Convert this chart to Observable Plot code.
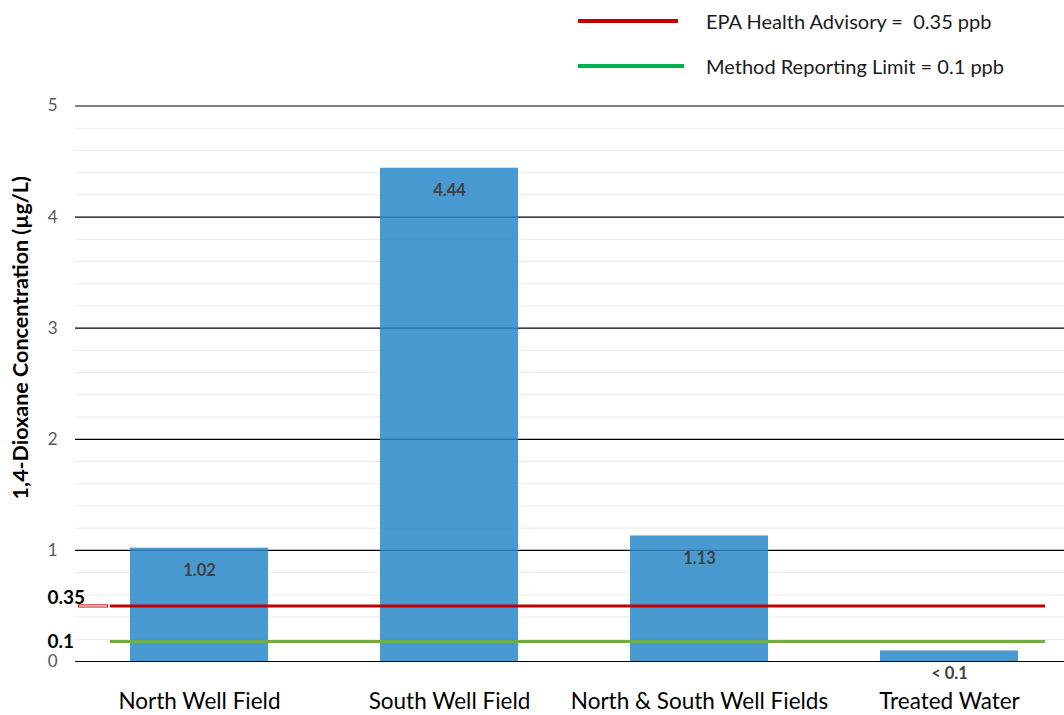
<!DOCTYPE html>
<html>
<head>
<meta charset="utf-8">
<script src="https://cdn.jsdelivr.net/npm/d3@7"></script>
<script src="https://cdn.jsdelivr.net/npm/@observablehq/plot@0.6"></script>
<style>
  html, body { margin: 0; padding: 0; background: #fff; }
  body { width: 1064px; height: 715px; overflow: hidden; font-family: Lato, "Open Sans", sans-serif; }
  #wrap { position: relative; width: 1064px; height: 715px; }
  #legend { position: absolute; left: 0; top: 0; width: 1064px; height: 90px; z-index: 2; }
  .lg-item { position: absolute; left: 578px; height: 24px; display: flex; align-items: center; }
  .lg-line { height: 4px; }
  .lg-text { font-size: 20px; color: #1a1a1a; white-space: pre; }
  #chart { position: absolute; left: 0; top: 0; }
</style>
</head>
<body>
<div id="wrap">
  <div id="legend"></div>
  <div id="chart"></div>
</div>
<script>
// ---- data ----
const categories = ["North Well Field", "South Well Field", "North & South Well Fields", "Treated Water"];
const concentrations = [1.02, 4.44, 1.13, 0.095];
const valueLabels = ["1.02", "4.44", "1.13", "< 0.1"];
const yTicks = [0, 1, 2, 3, 4, 5];
const minorTicks = [0.2, 0.4, 0.6, 0.8, 1.2, 1.4, 1.6, 1.8, 2.2, 2.4, 2.6, 2.8, 3.2, 3.4, 3.6, 3.8, 4.2, 4.4, 4.6, 4.8];
// reference lines: label text and the height at which they are drawn in the picture
const refLabels = ["0.35", "0.1"];
const refDrawnAt = [0.5, 0.18];
const legendNames = ["EPA Health Advisory =  0.35 ppb", "Method Reporting Limit = 0.1 ppb"];
const legendColors = ["#c00000", "#00b050"];
const refColors = ["#c00000", "#70ad47"];
const yTitle = "1,4-Dioxane Concentration (\u00b5g/L)";

const bars = categories.map((c, i) => ({category: c, value: concentrations[i], label: valueLabels[i]}));
const refs = refLabels.map((l, i) => ({label: l, y: refDrawnAt[i], color: refColors[i]}));

// legend
const legend = document.getElementById("legend");
legendNames.forEach((name, i) => {
  const item = document.createElement("div");
  item.className = "lg-item";
  item.style.top = (i === 0 ? 9 : 54) + "px";
  item.innerHTML = `<div class="lg-line" style="background:${legendColors[i]};width:${i === 0 ? 100 : 106}px;margin-right:${i === 0 ? 28 : 22}px"></div><div class="lg-text">${name}</div>`;
  legend.appendChild(item);
});

const font = "Lato, 'Open Sans', sans-serif";
const chart = Plot.plot({
  width: 1064,
  height: 715,
  marginLeft: 75,
  marginRight: 0,
  marginTop: 105.5,
  marginBottom: 54,
  style: {fontFamily: font, background: "transparent"},
  x: {domain: categories, range: [74, 1074], paddingInner: 0.448, paddingOuter: 0.224, label: null},
  y: {domain: [0, 5], label: null},
  marks: [
    Plot.ruleY(minorTicks, {stroke: "#ebebeb", strokeWidth: 1}),
    Plot.ruleY(yTicks, {stroke: "#000", strokeWidth: 1.2}),
    Plot.barY(bars, {x: "category", y: "value", fill: "#2a88ca", fillOpacity: 0.85}),
    Plot.text(bars, {x: "category", y: "value", text: "label", dy: 23, fontSize: 16.5, fontWeight: "bold", fill: "#404040"}),
    // small hollow red marker left of the advisory line
    Plot.ruleY([refs[0]], {y: "y", stroke: "#d01010", strokeWidth: 3.2, insetLeft: 3, insetRight: 956}),
    Plot.ruleY([refs[0]], {y: "y", stroke: "#fff", strokeWidth: 1.2, insetLeft: 4, insetRight: 957}),
    Plot.ruleY(refs, {y: "y", stroke: "color", strokeWidth: 3, insetLeft: 35, insetRight: 19}),
    Plot.text([refs[0]], {y: "y", text: "label", frameAnchor: "left", textAnchor: "start", dx: -28, dy: -8, fontSize: 19, fontWeight: "bold", fill: "#000"}),
    Plot.text([refs[1]], {y: "y", text: "label", frameAnchor: "left", textAnchor: "start", dx: -28, dy: 0, fontSize: 19, fontWeight: "bold", fill: "#000"}),
    Plot.axisY({ticks: yTicks, tickFormat: d3.format("d"), tickSize: 0, tickPadding: 18, fontSize: 17, color: "#595959", label: null}),
    Plot.axisX({tickSize: 0, tickPadding: 32, fontSize: 22.5, color: "#000", label: null}),
    Plot.text([yTitle], {frameAnchor: "left", textAnchor: "middle", rotate: -90, dx: -54, dy: -46, fontSize: 21.5, fontWeight: "bold", fill: "#000"})
  ]
});
document.getElementById("chart").appendChild(chart);
</script>
</body>
</html>
